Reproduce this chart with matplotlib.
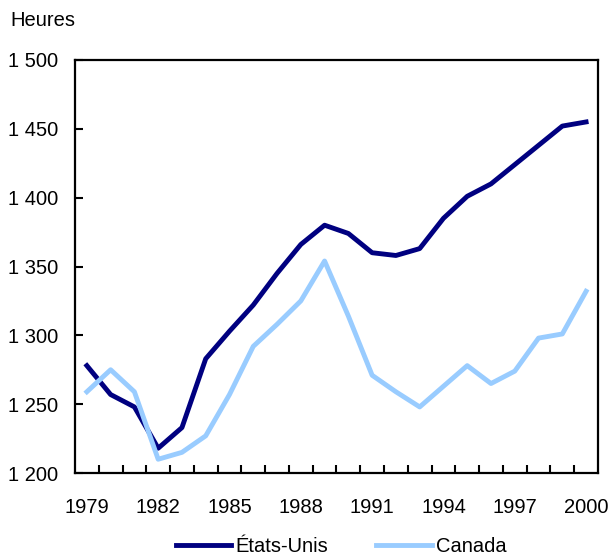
import numpy as np
import matplotlib.pyplot as plt
from matplotlib.ticker import FixedLocator, FuncFormatter

plt.rcParams["font.family"] = ["Liberation Sans", "DejaVu Sans"]
plt.rcParams["font.size"] = 14.5

years = list(range(1979, 2001))
etats_unis = [1278, 1257, 1248, 1218, 1233, 1283, 1303, 1322, 1345, 1366, 1380,
              1374, 1360, 1358, 1363, 1385, 1401, 1410, 1424, 1438, 1452, 1455]
canada = [1259, 1275, 1259, 1210, 1215, 1227, 1257, 1292, 1308, 1325, 1354,
          1314, 1271, 1259, 1248, 1263, 1278, 1265, 1274, 1298, 1301, 1332]
labeled_years = [1979, 1982, 1985, 1988, 1991, 1994, 1997, 2000]

fig = plt.figure(figsize=(6.13, 5.58), dpi=100)
ax = fig.add_axes([0.1223, 0.1523, 0.8532, 0.7402])

x = np.arange(len(years))
ax.plot(x, etats_unis, color="#000080", lw=3.5, label="États-Unis", solid_joinstyle="round")
ax.plot(x, canada, color="#99CCFF", lw=3.5, label="Canada", solid_joinstyle="round")

ax.set_xlim(-0.5, len(years) - 0.5)
ax.set_ylim(1200, 1500)
ax.set_yticks(range(1200, 1501, 50))
ax.yaxis.set_major_formatter(FuncFormatter(lambda v, p: f"{int(v):,}".replace(",", " ")))

ax.set_xticks([years.index(y) for y in labeled_years])
ax.set_xticklabels([str(y) for y in labeled_years])
ax.xaxis.set_minor_locator(FixedLocator(np.arange(0.5, len(years) - 1, 1.0)))

ax.tick_params(axis="x", which="major", length=0, pad=18)
ax.tick_params(axis="x", which="minor", direction="in", length=6, width=1.5)
ax.tick_params(axis="y", direction="in", length=6, width=1.5, pad=12)
for s in ax.spines.values():
    s.set_linewidth(1.6)

fig.text(10 / 613, 1 - 21 / 558, "Heures", va="center", ha="left")

fig.legend(loc="center", bbox_to_anchor=(341 / 613, 1 - 547 / 558), ncol=2, frameon=False,
           handlelength=2.75, handletextpad=0.2, columnspacing=2.4)

fig.savefig("out.png", dpi=100)
